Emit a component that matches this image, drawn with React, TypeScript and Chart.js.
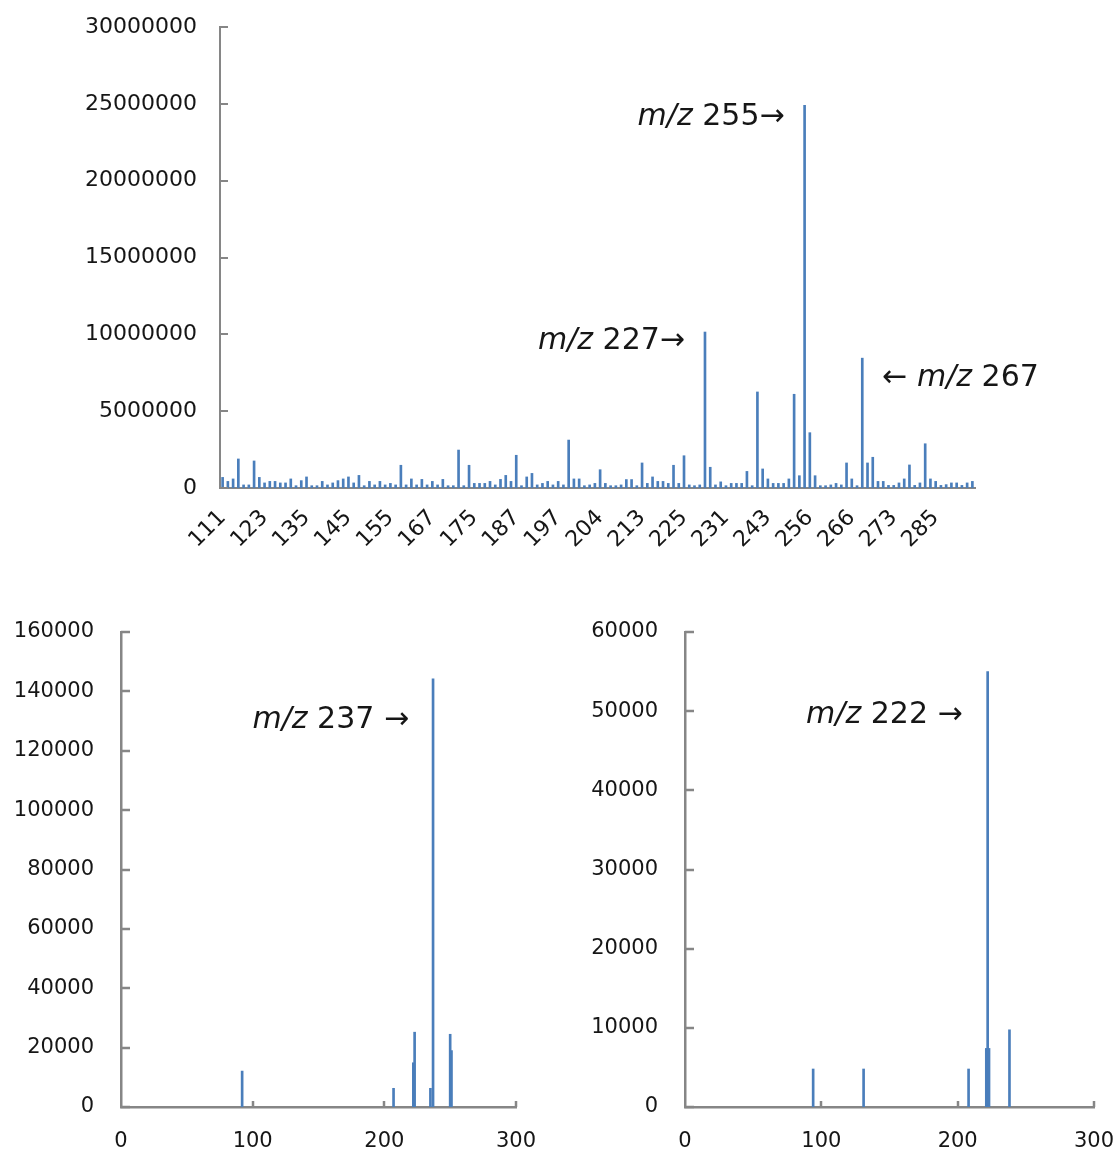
import React, { useEffect, useRef } from "react";
import { Chart, registerables } from "chart.js";

Chart.register(...registerables);

// ---------- Top panel (category axis of m/z values) ----------
const topMz = [
  111, 112, 113, 115, 116, 117, 119, 121, 123,
  124, 125, 127, 128, 129, 131, 133, 135,
  136, 137, 138, 139, 140, 141, 143, 145,
  146, 147, 148, 149, 151, 152, 153, 155,
  156, 157, 159, 160, 161, 163, 165, 167,
  168, 169, 170, 171, 172, 173, 174, 175,
  177, 178, 179, 181, 182, 183, 185, 187,
  188, 189, 190, 191, 193, 194, 195, 197,
  198, 199, 200, 201, 201, 202, 203, 204,
  205, 206, 207, 208, 209, 210, 211, 213,
  214, 215, 216, 217, 219, 221, 223, 225,
  225, 226, 226, 227, 228, 229, 230, 231,
  232, 233, 235, 237, 239, 241, 242, 243,
  244, 245, 247, 249, 251, 253, 255, 256,
  257, 258, 259, 261, 262, 263, 265, 266,
  266, 267, 268, 269, 270, 271, 272, 273,
  274, 275, 276, 277, 279, 281, 283, 285,
  286, 287, 288, 289, 291, 292, 293,
];

// intensities in millions of counts
const topIntensityM = [
  0.69, 0.43, 0.59, 1.89, 0.2, 0.2, 1.76, 0.69, 0.33,
  0.43, 0.43, 0.33, 0.33, 0.59, 0.15, 0.48, 0.72,
  0.15, 0.15, 0.43, 0.2, 0.33, 0.48, 0.59, 0.72,
  0.33, 0.82, 0.15, 0.43, 0.2, 0.43, 0.2, 0.3,
  0.2, 1.48, 0.2, 0.59, 0.2, 0.56, 0.2, 0.43,
  0.2, 0.56, 0.15, 0.15, 2.47, 0.15, 1.48, 0.3,
  0.3, 0.3, 0.43, 0.2, 0.56, 0.82, 0.43, 2.13,
  0.15, 0.72, 0.95, 0.2, 0.3, 0.43, 0.2, 0.43,
  0.2, 3.12, 0.59, 0.59, 0.15, 0.2, 0.3, 1.19,
  0.3, 0.15, 0.15, 0.2, 0.55, 0.55, 0.15, 1.63,
  0.3, 0.72, 0.43, 0.43, 0.3, 1.48, 0.3, 2.1,
  0.2, 0.15, 0.2, 10.15, 1.35, 0.2, 0.4, 0.15,
  0.3, 0.3, 0.3, 1.08, 0.15, 6.25, 1.24, 0.59,
  0.3, 0.3, 0.3, 0.59, 6.1, 0.8, 24.9, 3.6,
  0.8, 0.15, 0.15, 0.2, 0.3, 0.2, 1.63, 0.59,
  0.15, 8.45, 1.63, 2.0, 0.43, 0.43, 0.17, 0.17,
  0.33, 0.59, 1.5, 0.17, 0.33, 2.88, 0.59, 0.43,
  0.17, 0.22, 0.33, 0.33, 0.17, 0.33, 0.43,
];

const topLabelEvery = 8;
const topYMax = 30000000;
const topYStep = 5000000;

// annotation anchors: [category index, y value, label, side]
const topAnnIndex = [111, 92, 122];
const topAnnY = [24100000, 9560000, 7150000];
const topAnnText = ["255", "227", "267"];
const topAnnSide = ["left", "left", "right"];

// ---------- Bottom-left panel ----------
const leftMz = [92, 207, 222, 223, 235, 237, 250, 251];
const leftIntensity = [12100, 6300, 14900, 25200, 6300, 144200, 24500, 19000];
const leftYMax = 160000;
const leftYStep = 20000;
const leftAnn = { x: 237, y: 130300, text: "237" };

// ---------- Bottom-right panel ----------
const rightMz = [94, 131, 208, 221, 222, 223, 238];
const rightIntensity = [4800, 4800, 4800, 7400, 55000, 7400, 9750];
const rightYMax = 60000;
const rightYStep = 10000;
const rightAnn = { x: 222, y: 49500, text: "222" };

const xMax = 300;
const xStep = 100;

// ---------- styling ----------
const BAR = "#4A7EBB";
const AXIS = "#868686";
const TEXT = "#161616";
const FONT = "DejaVu Sans";

const innerTicks = {
  id: "innerTicks",
  afterDraw(chart: any, _a: any, opts: any) {
    const { ctx, chartArea } = chart;
    ctx.save();
    ctx.strokeStyle = opts.color;
    ctx.lineWidth = opts.width;
    if (opts.y) {
      const ys = chart.scales.y;
      ys.ticks.forEach((_t: any, i: number) => {
        const y = Math.round(ys.getPixelForTick(i));
        ctx.beginPath();
        ctx.moveTo(chartArea.left, y);
        ctx.lineTo(chartArea.left + opts.y, y);
        ctx.stroke();
      });
    }
    if (opts.x) {
      const xs = chart.scales.x;
      xs.ticks.forEach((t: any, i: number) => {
        if (t.value <= 0) return;
        const x = Math.round(xs.getPixelForTick(i));
        ctx.beginPath();
        ctx.moveTo(x, chartArea.bottom);
        ctx.lineTo(x, chartArea.bottom - opts.x);
        ctx.stroke();
      });
    }
    ctx.restore();
  },
};

const annot = {
  id: "annot",
  afterDraw(chart: any, _a: any, opts: any) {
    const { ctx } = chart;
    const xs = chart.scales.x;
    const ys = chart.scales.y;
    const size = opts.size;
    (opts.items || []).forEach((it: any) => {
      const px = xs.getPixelForValue(it.x);
      const py = ys.getPixelForValue(it.y);
      const segs =
        it.side === "right"
          ? [
              { t: "\u2190 ", i: false },
              { t: "m/z", i: true },
              { t: " " + it.text, i: false },
            ]
          : [
              { t: "m/z", i: true },
              { t: " " + it.text + (opts.spaceArrow ? " " : "") + "\u2192", i: false },
            ];
      ctx.save();
      ctx.fillStyle = TEXT;
      ctx.textBaseline = "middle";
      ctx.textAlign = "left";
      let total = 0;
      const widths = segs.map((s) => {
        ctx.font = `${s.i ? "italic " : ""}${size}px "${FONT}"`;
        const w = ctx.measureText(s.t).width;
        total += w;
        return w;
      });
      let x = it.side === "right" ? px + it.gap : px - it.gap - total;
      segs.forEach((s, k) => {
        ctx.font = `${s.i ? "italic " : ""}${size}px "${FONT}"`;
        ctx.fillText(s.t, x, py);
        x += widths[k];
      });
      ctx.restore();
    });
  },
};

function useChart(ref: React.RefObject<HTMLCanvasElement | null>, make: () => any) {
  useEffect(() => {
    if (!ref.current) return;
    const chart = new Chart(ref.current, make());
    return () => chart.destroy();
  }, []);
}

function topConfig() {
  return {
    type: "bar",
    data: {
      labels: topMz.map(String),
      datasets: [
        {
          data: topIntensityM.map((v) => v * 1000000),
          backgroundColor: BAR,
          borderWidth: 0,
          barThickness: 2,
        },
      ],
    },
    options: {
      responsive: false,
      animation: false,
      devicePixelRatio: 1,
      layout: { padding: { top: 27, right: 143, left: 0, bottom: 0 } },
      plugins: {
        legend: { display: false },
        tooltip: { enabled: false },
        innerTicks: { y: 8, color: AXIS, width: 2 },
        annot: {
          size: 30,
          items: topAnnIndex.map((x, k) => ({
            x,
            y: topAnnY[k],
            text: topAnnText[k],
            side: topAnnSide[k],
            gap: 20,
          })),
        },
      },
      scales: {
        x: {
          type: "category",
          offset: true,
          grid: { display: false, drawTicks: true, tickLength: 17 },
          border: { display: true, color: AXIS, width: 2 },
          ticks: {
            autoSkip: false,
            minRotation: 45,
            maxRotation: 45,
            padding: 0,
            color: TEXT,
            font: { family: FONT, size: 22 },
            callback: (_v: any, i: number) => (i % topLabelEvery === 0 ? String(topMz[i]) : ""),
          },
          afterFit: (s: any) => {
            s.height = 82;
          },
        },
        y: {
          min: 0,
          max: topYMax,
          grid: { display: false, drawTicks: true, tickLength: 23 },
          border: { display: true, color: AXIS, width: 2 },
          ticks: {
            stepSize: topYStep,
            padding: 0,
            color: TEXT,
            font: { family: FONT, size: 22 },
            callback: (v: any) => String(v),
          },
          afterFit: (s: any) => {
            s.width = 220;
          },
        },
      },
    },
    plugins: [innerTicks, annot],
  };
}

function bottomConfig(
  mz: number[],
  inten: number[],
  yMax: number,
  yStep: number,
  yWidth: number,
  padRight: number,
  ann: { x: number; y: number; text: string },
  gap: number
) {
  return {
    type: "bar",
    data: {
      datasets: [
        {
          data: mz.map((x, k) => ({ x, y: inten[k] })),
          backgroundColor: BAR,
          borderWidth: 0,
          barThickness: 2,
        },
      ],
    },
    options: {
      responsive: false,
      animation: false,
      devicePixelRatio: 1,
      layout: { padding: { top: 52, right: padRight, left: 0, bottom: 0 } },
      plugins: {
        legend: { display: false },
        tooltip: { enabled: false },
        innerTicks: { y: 9, x: 6, color: AXIS, width: 2.5 },
        annot: {
          size: 30,
          spaceArrow: true,
          items: [{ x: ann.x, y: ann.y, text: ann.text, side: "left", gap }],
        },
      },
      scales: {
        x: {
          type: "linear",
          min: 0,
          max: xMax,
          offset: false,
          grid: { display: false, drawTicks: true, tickLength: 22, offset: false },
          border: { display: true, color: AXIS, width: 2.5 },
          ticks: {
            stepSize: xStep,
            padding: 0,
            color: TEXT,
            font: { family: FONT, size: 21 },
            callback: (v: any) => String(v),
          },
          afterFit: (s: any) => {
            s.height = 48;
          },
        },
        y: {
          min: 0,
          max: yMax,
          grid: { display: false, drawTicks: true, tickLength: 27 },
          border: { display: true, color: AXIS, width: 2.5 },
          ticks: {
            stepSize: yStep,
            padding: 0,
            color: TEXT,
            font: { family: FONT, size: 21 },
            callback: (v: any) => String(v),
          },
          afterFit: (s: any) => {
            s.width = yWidth;
          },
        },
      },
    },
    plugins: [innerTicks, annot],
  };
}

export default function App() {
  const topRef = useRef<HTMLCanvasElement>(null);
  const leftRef = useRef<HTMLCanvasElement>(null);
  const rightRef = useRef<HTMLCanvasElement>(null);

  useChart(topRef, topConfig);
  useChart(leftRef, () =>
    bottomConfig(leftMz, leftIntensity, leftYMax, leftYStep, 121, 43, leftAnn, 24)
  );
  useChart(rightRef, () =>
    bottomConfig(rightMz, rightIntensity, rightYMax, rightYStep, 126, 24, rightAnn, 25)
  );

  return (
    <div
      style={{
        position: "absolute",
        left: 0,
        top: 0,
        width: 1118,
        height: 1155,
        background: "#ffffff",
      }}
    >
      <canvas
        ref={topRef}
        width={1118}
        height={570}
        style={{ position: "absolute", left: 0, top: 0, width: 1118, height: 570 }}
      />
      <canvas
        ref={leftRef}
        width={559}
        height={575}
        style={{ position: "absolute", left: 0, top: 580, width: 559, height: 575 }}
      />
      <canvas
        ref={rightRef}
        width={559}
        height={575}
        style={{ position: "absolute", left: 559, top: 580, width: 559, height: 575 }}
      />
    </div>
  );
}
